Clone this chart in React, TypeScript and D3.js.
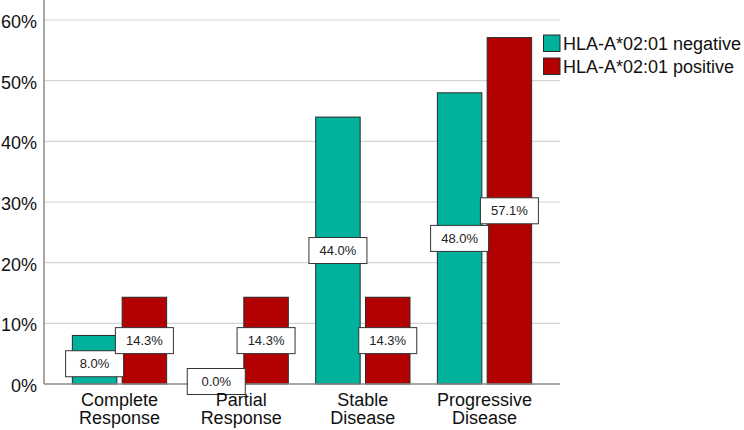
import React from "react";
import * as d3 from "d3";

const categories = [["Complete", "Response"], ["Partial", "Response"], ["Stable", "Disease"], ["Progressive", "Disease"]];
const categoryKeys = ["Complete Response", "Partial Response", "Stable Disease", "Progressive Disease"];
const seriesNames = ["HLA-A*02:01 negative", "HLA-A*02:01 positive"];
const negativeValues = [8.0, 0.0, 44.0, 48.0];
const positiveValues = [14.3, 14.3, 14.3, 57.1];
const yTicks = [0, 10, 20, 30, 40, 50, 60];
const colors = ["#00B29C", "#B30000"];

const W = 744, H = 430;
const left = 44, right = 560, top = 0, bottom = 384;

export default function App() {
  const x = d3.scaleBand<string>().domain(categoryKeys).range([left, right]).paddingInner(0.225).paddingOuter(0.233);
  const xs = d3.scaleBand<string>().domain(seriesNames).range([0, x.bandwidth()]).paddingInner(0.107);
  const y = d3.scaleLinear().domain([0, 60]).range([bottom, 20]);
  const series = [negativeValues, positiveValues];
  const font = "Arial, 'Liberation Sans', sans-serif";
  const boxW = 58, boxH = 26;

  // label positions with simple collision nudge
  const labels: { cx: number; cy: number; text: string }[] = [];
  categoryKeys.forEach((c, i) => {
    const items = seriesNames.map((s, j) => {
      const v = series[j][i];
      return { cx: (x(c) ?? 0) + (xs(s) ?? 0) + xs.bandwidth() / 2, cy: y(v / 2), text: v.toFixed(1) + "%" };
    });
    const [a, b] = items;
    if (Math.abs(a.cy - b.cy) < boxH && Math.abs(a.cx - b.cx) < boxW) {
      if (a.cy >= b.cy) a.cy += 4; else b.cy += 4;
    }
    items.forEach((it) => {
      if (it.cy > bottom - 2) it.cy = bottom - 2.5;
      labels.push(it);
    });
  });

  return (
    <svg width={W} height={H} style={{ position: "absolute", left: 0, top: 0, background: "#fff" }} fontFamily={font}>
      <rect x={0} y={0} width={W} height={H} fill="#fff" />
      {yTicks.map((t) => (
        <g key={t}>
          {t > 0 && <line x1={left} x2={right} y1={y(t)} y2={y(t)} stroke="#d4d4d4" strokeWidth={1.2} />}
          <text x={37} y={y(t) + 2} textAnchor="end" dominantBaseline="central" fontSize={18} fill="#111">
            {t}%
          </text>
        </g>
      ))}
      {categoryKeys.map((c, i) =>
        seriesNames.map((s, j) => {
          const v = series[j][i];
          const bx = (x(c) ?? 0) + (xs(s) ?? 0);
          if (v <= 0) return null;
          return (
            <rect key={c + s} x={bx} y={y(v)} width={xs.bandwidth()} height={bottom - y(v)} fill={colors[j]} stroke="#2a2a2a" strokeWidth={1} />
          );
        })
      )}
      <line x1={left} x2={left} y1={top} y2={bottom} stroke="#8a8a8a" strokeWidth={1.5} />
      <line x1={left} x2={right} y1={bottom} y2={bottom} stroke="#8a8a8a" strokeWidth={1.5} />
      {labels.map((l, k) => (
        <g key={k}>
          <rect x={l.cx - boxW / 2} y={l.cy - boxH / 2} width={boxW} height={boxH} fill="#fff" stroke="#333" strokeWidth={1} />
          <text x={l.cx} y={l.cy} textAnchor="middle" dominantBaseline="central" fontSize={13} fill="#222">
            {l.text}
          </text>
        </g>
      ))}
      {categories.map((lines, i) => (
        <text key={i} x={(x(categoryKeys[i]) ?? 0) + x.bandwidth() / 2} textAnchor="middle" fontSize={18} fill="#111">
          <tspan x={(x(categoryKeys[i]) ?? 0) + x.bandwidth() / 2} y={406}>{lines[0]}</tspan>
          <tspan x={(x(categoryKeys[i]) ?? 0) + x.bandwidth() / 2} y={424}>{lines[1]}</tspan>
        </text>
      ))}
      {seriesNames.map((s, j) => (
        <g key={s}>
          <rect x={543.5} y={35 + j * 23} width={16.5} height={16.5} fill={colors[j]} stroke="#2a2a2a" strokeWidth={1} />
          <text x={563} y={43.5 + j * 23} dominantBaseline="central" fontSize={18} fill="#111">
            {s}
          </text>
        </g>
      ))}
    </svg>
  );
}
